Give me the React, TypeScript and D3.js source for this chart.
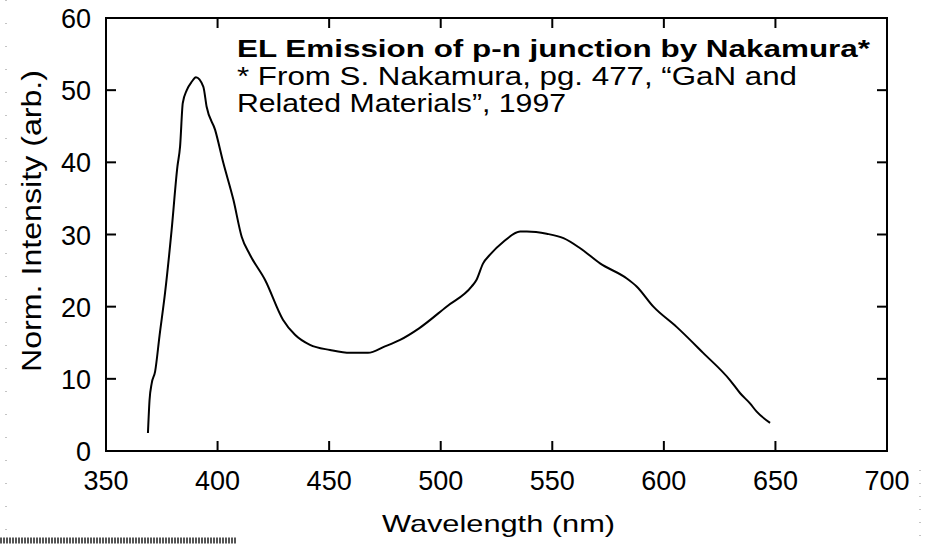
import React from "react";
import * as d3 from "d3";

const wavelength = [368.8, 369.5, 370.5, 372, 374, 376.5, 379.4, 382, 383.2, 384.4, 386.2, 388.5, 390.3, 393.6, 395.1, 398.9, 402.6, 407.1, 410.8, 414.5, 421.3, 429.3, 434.7, 441.4, 450.4, 459.4, 467.4, 475, 481.8, 490.3, 502.6, 513.9, 516, 519, 522.1, 528.1, 535.6, 538.6, 547.5, 555, 562.5, 571.4, 583.4, 587.8, 595.3, 605.7, 617.6, 629.7, 634.2, 638.6, 641.6, 647.6];
const intensity = [2.5, 7, 9.4, 11, 16, 22, 30.6, 39.4, 42.2, 48.2, 50, 51.2, 51.8, 50.5, 47.7, 44.5, 39.9, 34.8, 29.7, 27.2, 23.7, 18.2, 16.1, 14.7, 14.0, 13.6, 13.6, 14.5, 15.4, 17.0, 20.0, 22.8, 23.7, 26.0, 27.2, 29.0, 30.4, 30.4, 30.1, 29.5, 28.1, 26.0, 23.9, 22.8, 20.0, 17.2, 13.6, 9.8, 8.0, 6.6, 5.45, 3.9];

const xTicks = [350, 400, 450, 500, 550, 600, 650, 700];
const yTicks = [0, 10, 20, 30, 40, 50, 60];

const titleLines = [
  "EL Emission of p-n junction by Nakamura*",
  "* From S. Nakamura, pg. 477, \u201cGaN and",
  "Related Materials\u201d, 1997",
];

export default function App() {
  const W = 925, H = 544;
  const left = 106, right = 887, top = 18, bottom = 451;
  const x = d3.scaleLinear().domain([350, 700]).range([left, right]);
  const y = d3.scaleLinear().domain([0, 60]).range([bottom, top]);
  const pts = wavelength.map((w, i) => [w, intensity[i]] as [number, number]);
  const line = d3.line<[number, number]>().x(d => x(d[0])).y(d => y(d[1])).curve(d3.curveMonotoneX);
  const font = "'Liberation Sans', Arial, sans-serif";
  const tl = 10;
  return (
    <svg width={W} height={H} style={{ position: "absolute", left: 0, top: 0, background: "#fff" }} fontFamily={font}>
      <rect x={0} y={0} width={W} height={H} fill="#fff" />
      {/* scan artifacts */}
      <line x1={6} y1={0} x2={6} y2={530} stroke="#888" strokeWidth={1} strokeDasharray="1,22" />
      <line x1={920} y1={470} x2={920} y2={544} stroke="#888" strokeWidth={1} strokeDasharray="1,12" />
      <line x1={0} y1={540.5} x2={237} y2={540.5} stroke="#555" strokeWidth={6} strokeDasharray="2,1" />
      {/* frame */}
      <rect x={left} y={top} width={right - left} height={bottom - top} fill="none" stroke="#000" strokeWidth={2} />
      {xTicks.map(t => (
        <g key={"x" + t}>
          <line x1={x(t)} x2={x(t)} y1={bottom} y2={bottom - tl} stroke="#000" strokeWidth={2} />
          <line x1={x(t)} x2={x(t)} y1={top} y2={top + tl} stroke="#000" strokeWidth={2} />
          <text x={x(t)} y={490} fontSize={27} textAnchor="middle" fill="#000">{t}</text>
        </g>
      ))}
      {yTicks.map(t => (
        <g key={"y" + t}>
          <line x1={left} x2={left + tl} y1={y(t)} y2={y(t)} stroke="#000" strokeWidth={2} />
          <line x1={right} x2={right - tl} y1={y(t)} y2={y(t)} stroke="#000" strokeWidth={2} />
          <text x={91} y={y(t) + 10} fontSize={27} textAnchor="end" fill="#000">{t}</text>
        </g>
      ))}
      <path d={line(pts) || ""} fill="none" stroke="#000" strokeWidth={2} />
      <text x={237} y={57} fontSize={24} fontWeight="bold" textLength={633} lengthAdjust="spacingAndGlyphs" fill="#000">{titleLines[0]}</text>
      <text x={237} y={85} fontSize={25} textLength={560} lengthAdjust="spacingAndGlyphs" fill="#000">{titleLines[1]}</text>
      <text x={237} y={112} fontSize={25} textLength={329} lengthAdjust="spacingAndGlyphs" fill="#000">{titleLines[2]}</text>
      <text x={382} y={532} fontSize={24} textLength={233} lengthAdjust="spacingAndGlyphs" fill="#000">Wavelength (nm)</text>
      <text transform={`translate(41,221) rotate(-90)`} fontSize={28} textAnchor="middle" textLength={302} lengthAdjust="spacingAndGlyphs" fill="#000">Norm. Intensity (arb.)</text>
    </svg>
  );
}
